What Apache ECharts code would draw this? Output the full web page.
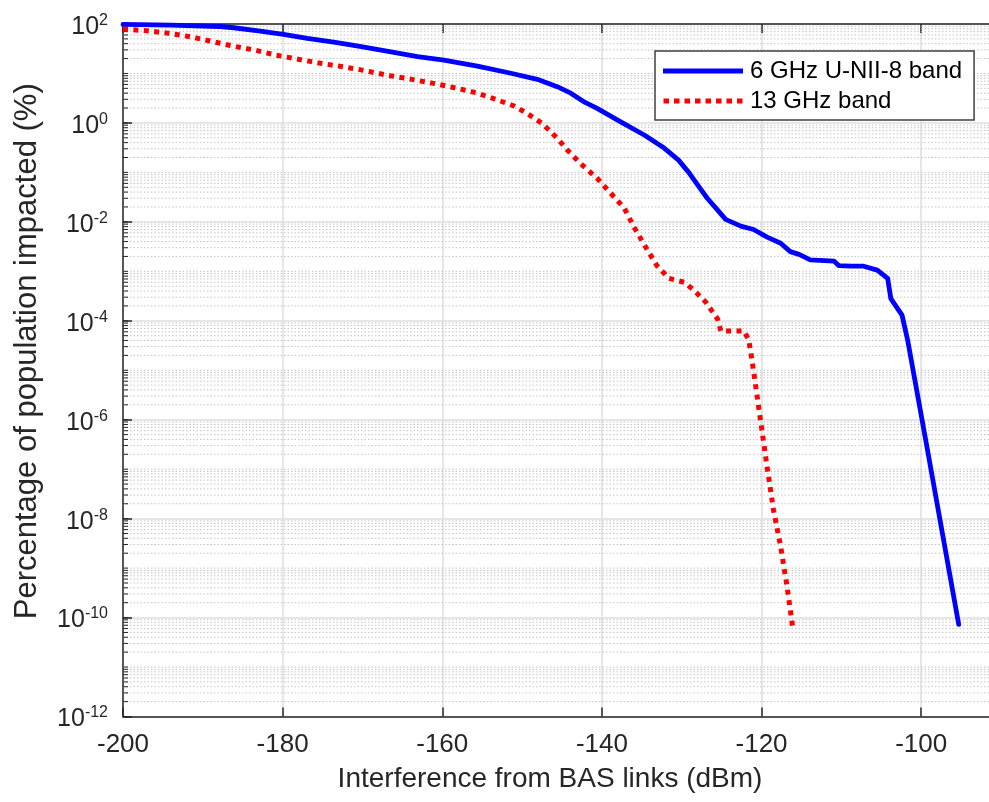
<!DOCTYPE html>
<html>
<head>
<meta charset="utf-8">
<script src="https://cdn.jsdelivr.net/npm/echarts@6/dist/echarts.min.js"></script>
<style>
  html, body { margin: 0; padding: 0; background: #fff; }
  #chart { width: 989px; height: 802px; }
</style>
</head>
<body>
<div id="chart"></div>
<script>
// Interference level (dBm) and share of population impacted (%)
const uniiX = [-200, -194, -187.8, -186.1, -182.8, -179.9, -176.9, -173.6, -170.7, -167.3,
  -163.1, -159.8, -155.6, -151.4, -148.1, -145.6, -143.9, -142.3, -140.6, -137.7,
  -134.7, -132.2, -130.4, -129.1, -127.9, -126.8, -125.5, -124.5, -122.6, -121.0,
  -119.3, -117.6, -116.4, -115.3, -113.9, -110.9, -110.3, -108.8, -107.2, -105.5,
  -104.2, -103.8, -102.4, -101.7, -99.2, -95.3];
const uniiY = [98, 95, 89, 84, 72, 62, 51, 43, 36, 29,
  22, 18.7, 14.1, 10.1, 7.6, 5.4, 4.0, 2.7, 1.97, 1.06,
  0.57, 0.31, 0.177, 0.099, 0.053, 0.030, 0.0173, 0.0112, 0.0082, 0.0070,
  0.0049, 0.0037, 0.0025, 0.0022, 0.0017, 0.0016, 0.0013, 0.00127, 0.00127, 0.00106,
  0.00072, 0.00028, 0.00013, 4.1e-5, 2.4e-7, 7.3e-11];

const band13X = [-200, -197, -194.3, -191.5, -189, -186.3, -183.6, -180.9, -178.2, -175.7,
  -173, -170.5, -169, -166.5, -163.8, -161.1, -158.6, -155.8, -153.3, -151,
  -149.4, -147.5, -145.6, -144.3, -142.7, -140.6, -138.9, -137.2, -136, -134.3,
  -133.1, -131.6, -129.7, -128.5, -127, -125.5, -125.1, -122.2, -121.6, -121.2,
  -120.6, -120.1, -119.3, -118.5, -117.6, -116.8, -116.1];
const band13Y = [79, 73, 65, 55, 45, 36, 30, 23.6, 19.6, 16.5,
  14.1, 12.1, 10.8, 9.0, 7.6, 6.3, 5.2, 4.1, 3.0, 2.2,
  1.57, 0.98, 0.49, 0.28, 0.152, 0.076, 0.038, 0.019, 0.0079, 0.0027,
  0.0013, 0.00072, 0.0006, 0.00042, 0.00024, 0.000108, 6.2e-5, 6.2e-5, 4.1e-5, 1.6e-5,
  3.4e-6, 9.0e-7, 1.1e-7, 1.5e-8, 2.7e-9, 4.2e-10, 6.4e-11];

const seriesNames = ['6 GHz U-NII-8 band', '13 GHz band'];
const xTickValues = [-200, -180, -160, -140, -120, -100];
const yDecadeExponents = [-12, -11, -10, -9, -8, -7, -6, -5, -4, -3, -2, -1, 0, 1];
const minorMultipliers = [1, 2, 3, 4, 5, 6, 7, 8, 9];

const FONT = 'Liberation Sans, Arial, Helvetica, sans-serif';
const AXIS_COLOR = '#262626';
const X_MIN = -200, X_MAX = -90;

const zip = (xs, ys) => xs.map((x, i) => [x, ys[i]]);

// Minor levels m x 10^k; third column flags the dotted grid line
// (every second decade is a major line drawn by splitLine instead)
const minorLevels = [];
yDecadeExponents.forEach(k => {
  minorMultipliers.forEach(m => {
    const v = m * Math.pow(10, k);
    minorLevels.push([X_MIN, v, (m === 1 && k % 2 === 0) ? 0 : 1]);
  });
});

function renderMinor(params, api) {
  const v = api.value(1);
  const p1 = api.coord([X_MIN, v]);
  const p2 = api.coord([X_MAX, v]);
  const children = [{
    type: 'line', silent: true,
    shape: { x1: p1[0], y1: p1[1], x2: p1[0] + 5, y2: p1[1] },
    style: { stroke: AXIS_COLOR, lineWidth: 1 }
  }];
  if (api.value(2)) {
    children.unshift({
      type: 'line', silent: true,
      shape: { x1: p1[0], y1: p1[1], x2: p2[0], y2: p2[1] },
      style: { stroke: '#c4c4c4', lineWidth: 1, lineDash: [1.5, 2] }
    });
  }
  return { type: 'group', children: children };
}

// Legend glyphs: solid bar and a row of square dots
const solidIcon = 'path://M0,0H80V5H0Z';
let dotPath = 'path://';
for (let i = 0; i < 8; i++) {
  const x0 = i * 10.5;
  dotPath += 'M' + x0 + ',0H' + (x0 + 5.5) + 'V5H' + x0 + 'Z';
}

const chart = echarts.init(document.getElementById('chart'), null, { renderer: 'canvas' });

chart.setOption({
  animation: false,
  backgroundColor: '#ffffff',
  textStyle: { fontFamily: FONT },
  grid: {
    left: 123, top: 24, width: 878, height: 692.5,
    containLabel: false, outerBoundsMode: 'none'
  },
  legend: {
    data: [
      { name: seriesNames[0], icon: solidIcon },
      { name: seriesNames[1], icon: dotPath }
    ],
    orient: 'vertical',
    left: 655, top: 51,
    padding: [7, 12, 6, 8],
    itemGap: 4,
    itemWidth: 80, itemHeight: 5,
    backgroundColor: '#ffffff',
    borderColor: '#404040', borderWidth: 1.5, borderRadius: 0,
    textStyle: { fontSize: 24, color: '#000', fontFamily: FONT, lineHeight: 26, padding: [0, 0, 0, 2] },
    selectedMode: false
  },
  xAxis: [{
    type: 'value', min: X_MIN, max: X_MAX, interval: 20, position: 'bottom',
    axisLine: { show: true, onZero: false, lineStyle: { color: AXIS_COLOR, width: 1.5 } },
    axisTick: { show: true, inside: true, length: 9, lineStyle: { color: AXIS_COLOR, width: 1.5 } },
    axisLabel: {
      fontSize: 26, color: AXIS_COLOR, margin: 15, fontFamily: FONT,
      formatter: v => (xTickValues.indexOf(v) >= 0 ? String(v) : '')
    },
    splitLine: { show: true, lineStyle: { color: '#dedede', width: 1.5 } },
    name: 'Interference from BAS links (dBm)',
    nameLocation: 'middle', nameGap: 49,
    nameTextStyle: { fontSize: 28, color: AXIS_COLOR, fontFamily: FONT, padding: [0, 24, 0, 0] }
  }, {
    type: 'value', min: X_MIN, max: X_MAX, interval: 20, position: 'top',
    axisLine: { show: true, onZero: false, lineStyle: { color: AXIS_COLOR, width: 1.5 } },
    axisTick: { show: true, inside: true, length: 9, lineStyle: { color: AXIS_COLOR, width: 1.5 } },
    axisLabel: { show: false },
    splitLine: { show: false }
  }],
  yAxis: {
    type: 'log', logBase: 100, min: 1e-12, max: 100, splitNumber: 7,
    axisLine: { show: true, onZero: false, lineStyle: { color: AXIS_COLOR, width: 1.5 } },
    axisTick: { show: true, inside: true, length: 9, lineStyle: { color: AXIS_COLOR, width: 1.5 } },
    axisLabel: {
      margin: 15, color: AXIS_COLOR, padding: [6, 0, 0, 0],
      formatter: v => '{b|10}{s|' + Math.round(Math.log10(v)) + '}',
      rich: {
        b: { fontSize: 25, lineHeight: 25, verticalAlign: 'bottom', color: AXIS_COLOR, fontFamily: FONT },
        s: { fontSize: 16, lineHeight: 16, verticalAlign: 'bottom', padding: [0, 0, 11, 0], color: AXIS_COLOR, fontFamily: FONT }
      }
    },
    splitLine: { show: true, lineStyle: { color: '#dedede', width: 1.5 } },
    name: 'Percentage of population impacted (%)',
    nameLocation: 'middle', nameRotate: 90, nameGap: 80,
    nameTextStyle: { fontSize: 31, color: AXIS_COLOR, fontFamily: FONT, padding: [0, 0, 0, 38] }
  },
  series: [{
    name: 'minor-levels',
    type: 'custom', z: 1, silent: true,
    xAxisIndex: 0, yAxisIndex: 0,
    renderItem: renderMinor,
    data: minorLevels,
    clip: false
  }, {
    name: seriesNames[0],
    type: 'line', data: zip(uniiX, uniiY), z: 3,
    symbol: 'none', showSymbol: false,
    lineStyle: { color: '#0000ff', width: 4.8, cap: 'round', join: 'round' },
    itemStyle: { color: '#0000ff' }
  }, {
    name: seriesNames[1],
    type: 'line', data: zip(band13X, band13Y), z: 4,
    symbol: 'none', showSymbol: false,
    lineStyle: { color: '#ff0000', width: 5, type: [5, 5.4], cap: 'butt' },
    itemStyle: { color: '#ff0000' }
  }]
});
</script>
</body>
</html>
